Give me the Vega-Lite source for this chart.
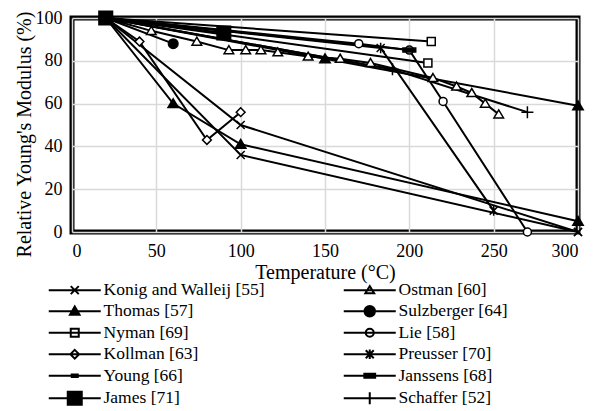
{
  "$schema": "https://vega.github.io/schema/vega-lite/v6.json",
  "autosize": {"type": "none"},
  "width": 506,
  "height": 214,
  "padding": {"left": 72, "top": 18, "right": 18, "bottom": 179},
  "background": "white",
  "config": {
    "view": {"stroke": "black", "strokeWidth": 5},
    "axis": {
      "labelFontSize": 18, "labelColor": "black", "labelFont": "Times New Roman, Liberation Serif, serif",
      "titleFont": "Times New Roman, Liberation Serif, serif", "titleFontSize": 20, "titleFontWeight": "normal", "titleColor": "black",
      "domain": false, "ticks": false, "gridColor": "#d9d9d9", "gridWidth": 1.5
    },
    "legend": {"labelFontSize": 17.5, "labelColor": "black", "labelLimit": 0, "labelFont": "Times New Roman, Liberation Serif, serif"}
  },
  "data": {
    "values": [
      {"grp": "K1", "series": "Konig and Walleij [55]", "t": 20, "m": 100},
      {"grp": "K1", "series": "Konig and Walleij [55]", "t": 100, "m": 50},
      {"grp": "K1", "series": "Konig and Walleij [55]", "t": 300, "m": 0},
      {"grp": "K2", "series": "Konig and Walleij [55]", "t": 20, "m": 100},
      {"grp": "K2", "series": "Konig and Walleij [55]", "t": 100, "m": 36},
      {"grp": "K2", "series": "Konig and Walleij [55]", "t": 300, "m": 0},
      {"grp": "T1", "series": "Thomas [57]", "t": 20, "m": 100},
      {"grp": "T1", "series": "Thomas [57]", "t": 60, "m": 60},
      {"grp": "T1", "series": "Thomas [57]", "t": 100, "m": 41},
      {"grp": "T1", "series": "Thomas [57]", "t": 300, "m": 5},
      {"grp": "T2", "series": "Thomas [57]", "t": 20, "m": 100},
      {"grp": "T2", "series": "Thomas [57]", "t": 150, "m": 81},
      {"grp": "T2", "series": "Thomas [57]", "t": 300, "m": 59},
      {"grp": "N1", "series": "Nyman [69]", "t": 20, "m": 100},
      {"grp": "N1", "series": "Nyman [69]", "t": 213, "m": 89},
      {"grp": "N2", "series": "Nyman [69]", "t": 20, "m": 100},
      {"grp": "N2", "series": "Nyman [69]", "t": 211, "m": 79},
      {"grp": "KO", "series": "Kollman [63]", "t": 20, "m": 100},
      {"grp": "KO", "series": "Kollman [63]", "t": 40, "m": 89},
      {"grp": "KO", "series": "Kollman [63]", "t": 80, "m": 43},
      {"grp": "KO", "series": "Kollman [63]", "t": 100, "m": 56},
      {"grp": "Y", "series": "Young [66]", "t": 20, "m": 100},
      {"grp": "Y", "series": "Young [66]", "t": 190, "m": 76},
      {"grp": "J", "series": "James [71]", "t": 20, "m": 100},
      {"grp": "J", "series": "James [71]", "t": 90, "m": 93},
      {"grp": "O", "series": "Ostman [60]", "t": 20, "m": 100},
      {"grp": "O", "series": "Ostman [60]", "t": 47, "m": 94},
      {"grp": "O", "series": "Ostman [60]", "t": 74, "m": 89},
      {"grp": "O", "series": "Ostman [60]", "t": 93, "m": 85},
      {"grp": "O", "series": "Ostman [60]", "t": 103, "m": 85},
      {"grp": "O", "series": "Ostman [60]", "t": 112, "m": 85},
      {"grp": "O", "series": "Ostman [60]", "t": 122, "m": 84},
      {"grp": "O", "series": "Ostman [60]", "t": 140, "m": 82},
      {"grp": "O", "series": "Ostman [60]", "t": 159, "m": 81},
      {"grp": "O", "series": "Ostman [60]", "t": 177, "m": 79},
      {"grp": "O", "series": "Ostman [60]", "t": 214, "m": 72},
      {"grp": "O", "series": "Ostman [60]", "t": 228, "m": 68},
      {"grp": "O", "series": "Ostman [60]", "t": 237, "m": 65},
      {"grp": "O", "series": "Ostman [60]", "t": 245, "m": 60},
      {"grp": "O", "series": "Ostman [60]", "t": 253, "m": 55},
      {"grp": "S", "series": "Sulzberger [64]", "t": 20, "m": 100},
      {"grp": "S", "series": "Sulzberger [64]", "t": 60, "m": 88},
      {"grp": "L", "series": "Lie [58]", "t": 20, "m": 100},
      {"grp": "L", "series": "Lie [58]", "t": 170, "m": 88},
      {"grp": "L", "series": "Lie [58]", "t": 200, "m": 85},
      {"grp": "L", "series": "Lie [58]", "t": 220, "m": 61},
      {"grp": "L", "series": "Lie [58]", "t": 270, "m": 0},
      {"grp": "P", "series": "Preusser [70]", "t": 20, "m": 100},
      {"grp": "P", "series": "Preusser [70]", "t": 183, "m": 86},
      {"grp": "P", "series": "Preusser [70]", "t": 250, "m": 10},
      {"grp": "JA", "series": "Janssens [68]", "t": 20, "m": 100},
      {"grp": "JA", "series": "Janssens [68]", "t": 200, "m": 85},
      {"grp": "SC", "series": "Schaffer [52]", "t": 20, "m": 100},
      {"grp": "SC", "series": "Schaffer [52]", "t": 190, "m": 76},
      {"grp": "SC", "series": "Schaffer [52]", "t": 270, "m": 56}
    ]
  },
  "encoding": {
    "x": {"field": "t", "type": "quantitative", "scale": {"domain": [0, 300], "nice": false},
          "axis": {"values": [0, 50, 100, 150, 200, 250, 300], "title": "Temperature (°C)", "labelPadding": 10, "titlePadding": 2}},
    "y": {"field": "m", "type": "quantitative", "scale": {"domain": [0, 100], "nice": false},
          "axis": {"values": [0, 20, 40, 60, 80, 100], "title": "Relative Young's Modulus (%)", "labelPadding": 10, "titlePadding": 1, "titleY": 116}}
  },
  "layer": [
    {"mark": {"type": "line", "color": "black", "strokeWidth": 2}, "encoding": {"detail": {"field": "grp"}}},
    {"transform": [{"filter": {"field": "series", "equal": "Konig and Walleij [55]"}}],
     "mark": {"type": "point", "shape": "M-1,-1L1,1M-1,1L1,-1", "size": 64, "stroke": "black", "strokeWidth": 1.5, "fill": "white", "opacity": 1}},
    {"transform": [{"filter": {"field": "series", "equal": "Ostman [60]"}}],
     "mark": {"type": "point", "shape": "M0,-1.1L1.2,0.9L-1.2,0.9Z", "size": 64, "stroke": "black", "strokeWidth": 1.5, "fill": "white", "filled": true, "opacity": 1}},
    {"transform": [{"filter": {"field": "series", "equal": "Thomas [57]"}}],
     "mark": {"type": "point", "shape": "M0,-1.2L1.3,1L-1.3,1Z", "size": 64, "stroke": "black", "strokeWidth": 1.5, "fill": "black", "filled": true, "opacity": 1}},
    {"transform": [{"filter": {"field": "series", "equal": "Sulzberger [64]"}}],
     "mark": {"type": "point", "shape": "M1.2,0A1.2,1.2,0,1,1,-1.2,0A1.2,1.2,0,1,1,1.2,0Z", "size": 64, "stroke": "black", "strokeWidth": 1.5, "fill": "black", "filled": true, "opacity": 1}},
    {"transform": [{"filter": {"field": "series", "equal": "Nyman [69]"}}],
     "mark": {"type": "point", "shape": "M-1,-1H1V1H-1Z", "size": 64, "stroke": "black", "strokeWidth": 1.5, "fill": "white", "filled": true, "opacity": 1}},
    {"transform": [{"filter": {"field": "series", "equal": "Lie [58]"}}],
     "mark": {"type": "point", "shape": "M1,0A1,1,0,1,1,-1,0A1,1,0,1,1,1,0Z", "size": 64, "stroke": "black", "strokeWidth": 1.5, "fill": "white", "filled": true, "opacity": 1}},
    {"transform": [{"filter": {"field": "series", "equal": "Kollman [63]"}}],
     "mark": {"type": "point", "shape": "M0,-1.1L1.1,0L0,1.1L-1.1,0Z", "size": 64, "stroke": "black", "strokeWidth": 1.5, "fill": "white", "filled": true, "opacity": 1}},
    {"transform": [{"filter": {"field": "series", "equal": "Preusser [70]"}}],
     "mark": {"type": "point", "shape": "M-1,-1L1,1M-1,1L1,-1M0,-1.3V1.3", "size": 64, "stroke": "black", "strokeWidth": 1.5, "fill": "white", "opacity": 1}},
    {"transform": [{"filter": {"field": "series", "equal": "Young [66]"}}],
     "mark": {"type": "point", "shape": "M-0.8,-0.3H0.8V0.3H-0.8Z", "size": 64, "stroke": "black", "strokeWidth": 1.5, "fill": "black", "filled": true, "opacity": 1}},
    {"transform": [{"filter": {"field": "series", "equal": "Janssens [68]"}}],
     "mark": {"type": "point", "shape": "M-1.6,-0.5H1.6V0.5H-1.6Z", "size": 64, "stroke": "black", "strokeWidth": 1.5, "fill": "black", "filled": true, "opacity": 1}},
    {"transform": [{"filter": {"field": "series", "equal": "James [71]"}}],
     "mark": {"type": "point", "shape": "M-1.7,-1.7H1.7V1.7H-1.7Z", "size": 64, "stroke": "black", "strokeWidth": 1.5, "fill": "black", "filled": true, "opacity": 1}},
    {"transform": [{"filter": {"field": "series", "equal": "Schaffer [52]"}}],
     "mark": {"type": "point", "shape": "M-1.5,0H1.5M0,-1.5V1.5", "size": 64, "stroke": "black", "strokeWidth": 1.5, "fill": "white", "opacity": 1}},
    {
      "mark": {"type": "point", "opacity": 0, "size": 64, "stroke": "black", "strokeWidth": 2},
      "encoding": {
        "shape": {"field": "series", "type": "nominal",
          "scale": {
            "domain": ["Konig and Walleij [55]", "Thomas [57]", "Nyman [69]", "Kollman [63]", "Young [66]", "James [71]", "Ostman [60]", "Sulzberger [64]", "Lie [58]", "Preusser [70]", "Janssens [68]", "Schaffer [52]"],
            "range": [
              "M-1.25,0H11.75M4.25,-1L6.25,1M4.25,1L6.25,-1",
              "M-1.25,0H11.75M5.25,-1.2L6.45,0.9L4.05,0.9Z",
              "M-1.25,0H11.75M4.25,-1H6.25V1H4.25Z",
              "M-1.25,0H11.75M5.25,-1.1L6.35,0L5.25,1.1L4.15,0Z",
              "M-1.25,0H11.75M4.5,-0.3H6V0.3H4.5Z",
              "M-1.25,0H11.75M3.5,-1.6H7V1.6H3.5Z",
              "M-1.25,0H11.75M5.25,-1L6.35,0.8L4.15,0.8Z",
              "M-1.25,0H11.75M6.55,0A1.3,1.3,0,1,1,3.95,0A1.3,1.3,0,1,1,6.55,0Z",
              "M-1.25,0H11.75M6.25,0A1,1,0,1,1,4.25,0A1,1,0,1,1,6.25,0Z",
              "M-1.25,0H11.75M4.25,-1L6.25,1M4.25,1L6.25,-1M5.25,-1.2V1.2",
              "M-1.25,0H11.75M3.9,-0.5H6.6V0.5H3.9Z",
              "M-1.25,0H11.75M5.25,-1.5V1.5"
            ]
          },
          "legend": {
            "title": null, "orient": "none", "legendX": -27, "legendY": 263, "columns": 2,
            "columnPadding": 74, "rowPadding": 2.5, "padding": 0, "symbolSize": 64,
            "symbolStrokeWidth": 2, "symbolStrokeColor": "black", "symbolOpacity": 1,
            "labelOffset": 41,
            "encode": {"symbols": {"update": {"stroke": {"value": "black"}, "strokeWidth": {"value": 2}, "opacity": {"value": 1}}}}
          }
        },
        "fill": {"field": "series", "type": "nominal",
          "scale": {
            "domain": ["Konig and Walleij [55]", "Thomas [57]", "Nyman [69]", "Kollman [63]", "Young [66]", "James [71]", "Ostman [60]", "Sulzberger [64]", "Lie [58]", "Preusser [70]", "Janssens [68]", "Schaffer [52]"],
            "range": ["white", "black", "white", "white", "black", "black", "white", "black", "white", "white", "black", "white"]
          },
          "legend": {
            "title": null, "orient": "none", "legendX": -27, "legendY": 263, "columns": 2,
            "columnPadding": 74, "rowPadding": 2.5, "padding": 0, "symbolSize": 64,
            "symbolStrokeWidth": 2, "symbolStrokeColor": "black", "symbolOpacity": 1,
            "labelOffset": 41,
            "encode": {"symbols": {"update": {"stroke": {"value": "black"}, "strokeWidth": {"value": 2}, "opacity": {"value": 1}}}}
          }
        }
      }
    }
  ]
}
